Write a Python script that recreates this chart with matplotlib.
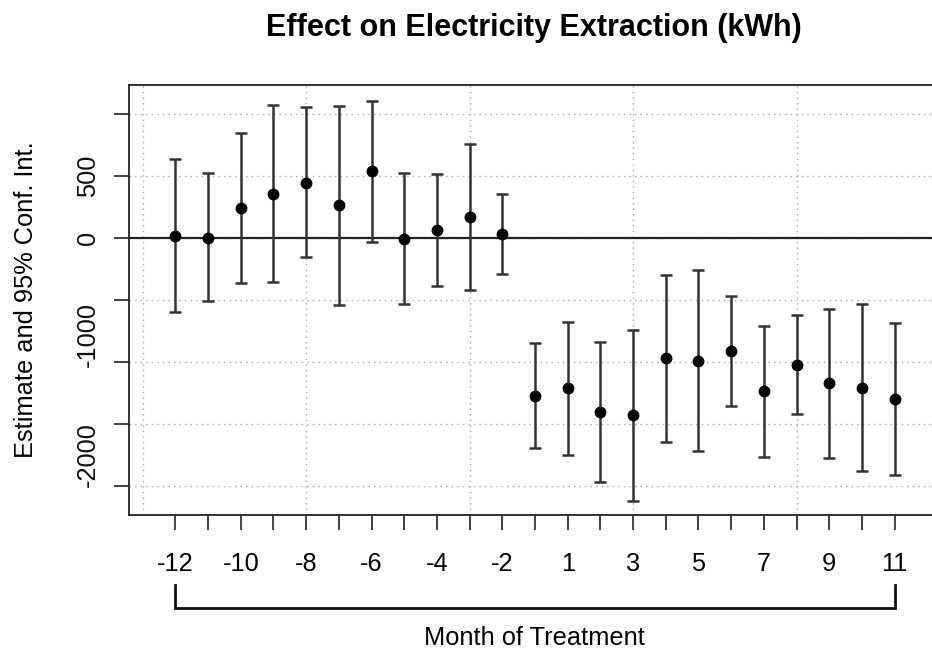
import matplotlib
matplotlib.use("Agg")
import matplotlib.pyplot as plt
import matplotlib.transforms as mtransforms

plt.rcParams['font.family'] = ['Liberation Sans', 'DejaVu Sans']

# Event-study estimates by month relative to treatment (month -1 is the reference)
months = [-12, -11, -10, -9, -8, -7, -6, -5, -4, -3, -2,
          0, 1, 2, 3, 4, 5, 6, 7, 8, 9, 10, 11]
estimate = [18, 2, 240, 355, 446, 264, 538, -8, 62, 167, 32,
            -1274, -1212, -1406, -1430, -970, -989, -911, -1237, -1024, -1172, -1207, -1298]
ci_low = [-594, -511, -360, -355, -156, -538, -32, -530, -387, -422, -290,
          -1691, -1747, -1968, -2118, -1642, -1718, -1357, -1766, -1419, -1774, -1879, -1909]
ci_high = [635, 522, 849, 1073, 1054, 1067, 1102, 522, 514, 756, 357,
           -849, -680, -839, -742, -298, -261, -465, -707, -624, -570, -532, -685]

y_ticks = [-2000, -1500, -1000, -500, 0, 500, 1000]
y_tick_labels = {500: "500", 0: "0", -1000: "-1000", -2000: "-2000"}

W, H, DPI = 932, 651, 100
fig = plt.figure(figsize=(W / DPI, H / DPI), dpi=DPI)

# plot region in pixels (right edge runs past the canvas)
left_px, right_px, top_px, bottom_px = 129, 941, 85, 515
ax = fig.add_axes([left_px / W, 1 - bottom_px / H,
                   (right_px - left_px) / W, (bottom_px - top_px) / H])

pos = list(range(1, len(months) + 1))
ax.set_xlim(-0.42, 24.42)
ax.set_ylim(-2234, 1234)

# dotted reference grid
for gx in [0, 5, 10, 15, 20, 25]:
    ax.axvline(gx, color='#a8a8a8', lw=1.0, ls=(0, (1, 3)), zorder=0)
for gy in y_ticks:
    ax.axhline(gy, color='#a8a8a8', lw=1.0, ls=(0, (1, 3)), zorder=0)
ax.axhline(0, color='#222222', lw=1.6, zorder=1)

err_lo = [e - l for e, l in zip(estimate, ci_low)]
err_hi = [h - e for e, h in zip(estimate, ci_high)]
ax.errorbar(pos, estimate, yerr=[err_lo, err_hi], fmt='o', color='black',
            ecolor='#333333', elinewidth=1.8, capsize=4.0, capthick=1.8,
            markersize=7.5, zorder=3)

for side in ['top', 'left', 'bottom']:
    ax.spines[side].set_color('#222222')
    ax.spines[side].set_linewidth(1.3)
ax.spines['right'].set_visible(False)

# x axis: ticks at every month, labels on every other one
ax.set_xticks(pos)
ax.set_xticklabels([str(m) if i % 2 == 0 else '' for i, m in enumerate(months)],
                   fontsize=18.3)
ax.tick_params(axis='x', length=11, width=1.2, color='#222222', pad=15.5)

# y axis
ax.set_yticks(y_ticks)
ax.set_yticklabels([])
ax.tick_params(axis='y', length=11, width=1.2, color='#222222')
ylab_trans = mtransforms.blended_transform_factory(fig.transFigure, ax.transData)
label_shift = {500: 0, 0: 0, -1000: 220, -2000: 250}
for v, txt in y_tick_labels.items():
    ax.text(88 / W, v + label_shift[v], txt, transform=ylab_trans, rotation=90,
            ha='center', va='center', fontsize=18.3, color='#111111')

fig.text(26 / W, 1 - 300 / H, "Estimate and 95% Conf. Int.",
         rotation=90, ha='center', va='center', fontsize=18.3)
fig.text(534 / W, 1 - 28 / H, "Effect on Electricity Extraction (kWh)",
         ha='center', va='center', fontsize=22, fontweight='bold')

# bracket spanning the full period
br_trans = mtransforms.blended_transform_factory(ax.transData, ax.transAxes)
y_br = -(607.5 - bottom_px) / (bottom_px - top_px)
y_br_top = -(585 - bottom_px) / (bottom_px - top_px)
ax.plot([pos[0], pos[0], pos[-1], pos[-1]], [y_br_top, y_br, y_br, y_br_top],
        color='#111111', lw=2.0, transform=br_trans, clip_on=False,
        solid_joinstyle='miter')
fig.text(534 / W, 1 - 638 / H, "Month of Treatment", ha='center', va='center',
         fontsize=18.3)

fig.savefig("out.png", dpi=DPI)
